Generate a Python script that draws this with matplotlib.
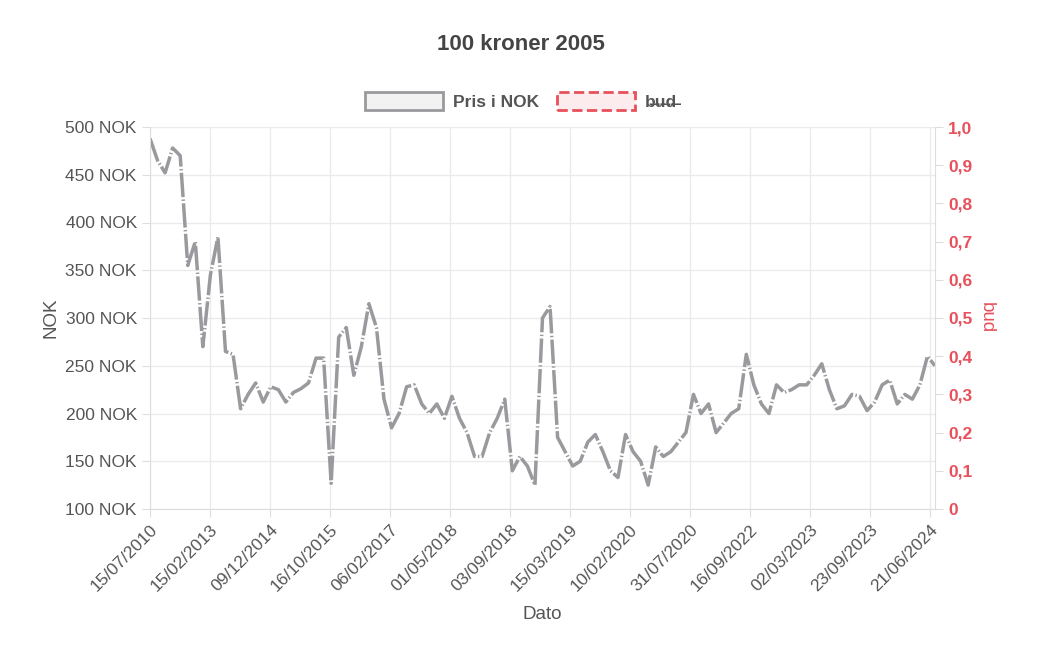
import matplotlib
matplotlib.use("Agg")
import matplotlib.pyplot as plt
from matplotlib.patches import Patch
import numpy as np

plt.rcParams["font.family"] = "Liberation Sans"

tick_labels = ["15/07/2010","15/02/2013","09/12/2014","16/10/2015","06/02/2017","01/05/2018",
               "03/09/2018","15/03/2019","10/02/2020","31/07/2020","16/09/2022","02/03/2023",
               "23/09/2023","21/06/2024"]
prices = [488,465,452,478,470,355,380,270,345,385,265,262,205,220,232,212,228,225,212,222,
          226,232,258,258,127,280,290,240,270,315,290,215,185,200,228,230,210,200,210,195,
          218,195,180,155,155,180,195,215,140,155,145,125,300,312,175,160,145,150,170,178,
          160,140,133,178,160,150,125,165,155,160,170,180,220,200,210,180,190,200,205,262,
          230,210,200,230,222,225,230,230,240,252,225,205,208,220,218,203,212,230,235,210,
          220,215,230,260,250]

fig = plt.figure(figsize=(10.42, 6.62), dpi=100)
ax = fig.add_axes([150/1042, 1-509/662, 785/1042, 382/662])
n = len(prices)
x = np.arange(n)
ax.plot(x, prices, color="#9a9a9e", lw=2.5, dashes=(7, 0.7, 0.4, 0.7), solid_joinstyle="round")
ax.set_xlim(0, n - 1)
ax.set_ylim(100, 500)
ax.set_yticks(range(100, 501, 50))
ax.set_yticklabels([f"{v} NOK" for v in range(100, 501, 50)], fontsize=12.5, color="#555")
pos = [i * 60 / 785 * (n - 1) for i in range(len(tick_labels))]
ax.set_xticks(pos)
ax.set_xticklabels(tick_labels, rotation=45, ha="right", rotation_mode="anchor", fontsize=12.5, color="#555")
ax.grid(color="#ebebeb", lw=1)
ax.set_axisbelow(True)
for s in ["top", "right"]:
    ax.spines[s].set_visible(False)
for s in ["left", "bottom"]:
    ax.spines[s].set_color("#ddd")
ax.tick_params(length=6, color="#ddd")
ax.set_ylabel("NOK", fontsize=13.5, color="#555")
ax.set_xlabel("Dato", fontsize=13.5, color="#555", labelpad=8)

ax2 = ax.twinx()
ax2.set_ylim(0, 1)
rt = np.round(np.arange(0, 1.01, 0.1), 1)
ax2.set_yticks(rt)
ax2.set_yticklabels([("0" if v == 0 else f"{v:.1f}".replace(".", ",")) for v in rt],
                    fontsize=12.5, color="#e8505b", fontweight="bold")
ax2.tick_params(length=6, color="#ddd")
for s in ["top", "left", "bottom"]:
    ax2.spines[s].set_visible(False)
ax2.spines["right"].set_color("#ddd")
ax2.set_ylabel("bud", fontsize=13.5, color="#e8505b", rotation=270, labelpad=16)

fig.text(0.5, 1-45/662, "100 kroner 2005", ha="center", va="center", fontsize=16, fontweight="bold", color="#444")
handles = [Patch(facecolor="#f2f2f2", edgecolor="#9a9a9e", lw=2),
           Patch(facecolor="#fdecee", edgecolor="#e8505b", lw=2, linestyle="--")]
leg = fig.legend(handles, ["Pris i NOK", "b\u0336u\u0336d\u0336"], loc="center", bbox_to_anchor=(0.5, 1-101/662),
                 ncol=2, frameon=False, fontsize=12.5, handlelength=4.5, handleheight=1.3, columnspacing=1.0,
                 handletextpad=0.6)
for t in leg.get_texts():
    t.set_color("#555"); t.set_fontweight("bold")
fig.savefig("out.png", dpi=100)
